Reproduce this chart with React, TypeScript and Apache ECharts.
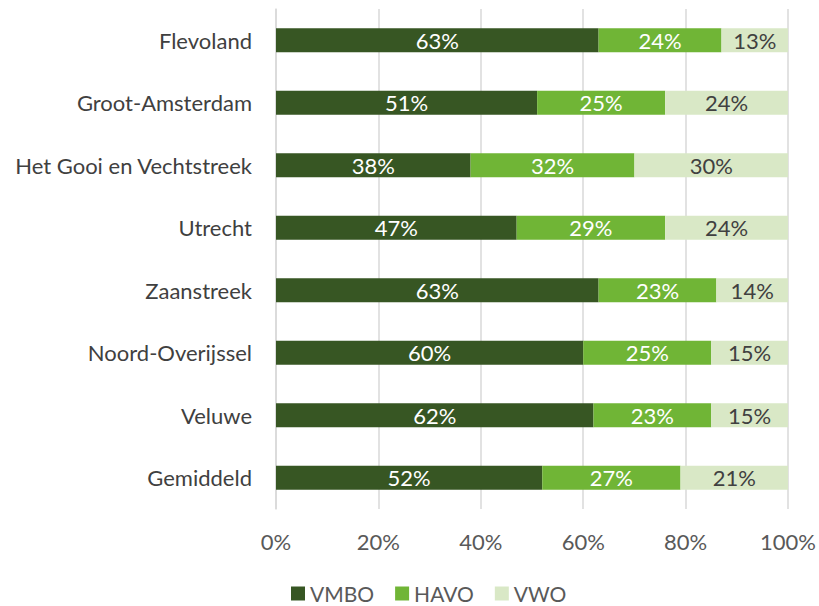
import React, { useEffect, useRef } from "react";
import * as echarts from "echarts";

const categories = [
  "Flevoland",
  "Groot-Amsterdam",
  "Het Gooi en Vechtstreek",
  "Utrecht",
  "Zaanstreek",
  "Noord-Overijssel",
  "Veluwe",
  "Gemiddeld",
];
const vmbo = [63, 51, 38, 47, 63, 60, 62, 52];
const havo = [24, 25, 32, 29, 23, 25, 23, 27];
const vwo = [13, 24, 30, 24, 14, 15, 15, 21];
const seriesNames = ["VMBO", "HAVO", "VWO"];
const colors = ["#375623", "#70B536", "#D9E8C6"];
const labelColors = ["#ffffff", "#ffffff", "#404040"];

const FONT = "Lato, 'Open Sans', sans-serif";

export default function App() {
  const ref = useRef<HTMLDivElement>(null);
  useEffect(() => {
    if (!ref.current) return;
    const chart = echarts.init(ref.current, null, { renderer: "svg" });
    const data = [vmbo, havo, vwo];
    chart.setOption({
      animation: false,
      textStyle: { fontFamily: FONT },
      grid: { left: 276, right: 30, top: 9, bottom: 97, containLabel: false },
      legend: {
        top: 583,
        left: 291,
        padding: 0,
        itemWidth: 14,
        itemHeight: 14,
        itemGap: 21,
        icon: "rect",
        textStyle: { fontFamily: FONT, fontSize: 21, color: "#595959" },
        data: seriesNames,
      },
      xAxis: {
        type: "value",
        min: 0,
        max: 100,
        interval: 20,
        axisLabel: {
          formatter: "{value}%",
          fontSize: 22,
          color: "#595959",
          fontFamily: FONT,
          margin: 21,
        },
        splitLine: { show: true, lineStyle: { color: "#D9D9D9", width: 1.5 } },
        axisLine: { show: false },
        axisTick: { show: false },
      },
      yAxis: {
        type: "category",
        inverse: true,
        data: categories,
        axisLabel: { fontSize: 22, color: "#404040", fontFamily: FONT, margin: 24 },
        axisLine: { show: true, lineStyle: { color: "#D9D9D9", width: 1.5 } },
        axisTick: { show: false },
      },
      series: seriesNames.map((name, i) => ({
        name,
        type: "bar",
        stack: "total",
        barWidth: 24,
        data: data[i],
        itemStyle: { color: colors[i] },
        label: {
          show: true,
          position: "inside",
          formatter: "{c}%",
          color: labelColors[i],
          fontSize: 22,
          fontFamily: FONT,
        },
      })),
    });
    return () => chart.dispose();
  }, []);
  return (
    <div
      ref={ref}
      style={{ position: "fixed", left: 0, top: 0, width: 819, height: 606, background: "#fff" }}
    />
  );
}
